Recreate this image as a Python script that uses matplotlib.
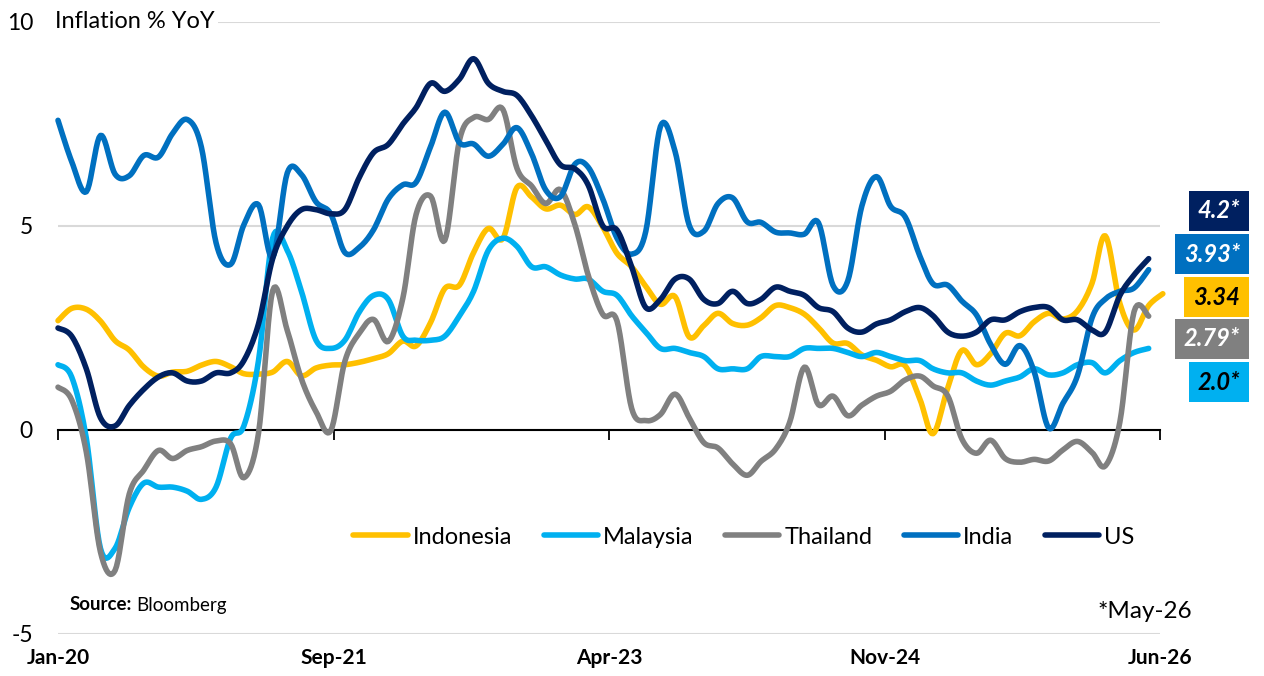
import numpy as np
import pandas as pd
import matplotlib
matplotlib.use('Agg')
import matplotlib.pyplot as plt
import matplotlib.dates as mdates

plt.rcParams['font.family'] = ['Lato', 'DejaVu Sans']

# month-end dates, Jan-20 .. Jun-26
months = pd.date_range('2020-01-31', periods=78, freq='ME')

# CPI % YoY
indonesia = [2.68, 2.98, 2.96, 2.67, 2.19, 1.96, 1.54, 1.32, 1.42, 1.44, 1.59, 1.68,
             1.55, 1.38, 1.37, 1.42, 1.68, 1.33, 1.52, 1.59, 1.60, 1.66, 1.75, 1.87,
             2.18, 2.06, 2.64, 3.47, 3.55, 4.35, 4.94, 4.69, 5.95, 5.71, 5.42, 5.51,
             5.28, 5.47, 4.97, 4.33, 4.00, 3.52, 3.08, 3.27, 2.28, 2.56, 2.86, 2.61,
             2.57, 2.75, 3.05, 3.00, 2.84, 2.51, 2.13, 2.12, 1.84, 1.71, 1.55, 1.57,
             0.76, -0.09, 1.03, 1.95, 1.60, 1.87, 2.37, 2.31, 2.65, 2.86, 2.72, 2.92,
             3.60, 4.76, 3.10, 2.45, 3.05, 3.34]
malaysia = [1.6, 1.3, -0.2, -2.9, -2.9, -1.9, -1.3, -1.4, -1.4, -1.5, -1.7, -1.4,
            -0.2, 0.1, 1.7, 4.7, 4.4, 3.4, 2.2, 2.0, 2.2, 2.9, 3.3, 3.2,
            2.3, 2.2, 2.2, 2.3, 2.8, 3.4, 4.4, 4.7, 4.5, 4.0, 4.0, 3.8,
            3.7, 3.7, 3.4, 3.3, 2.8, 2.4, 2.0, 2.0, 1.9, 1.8, 1.5, 1.5,
            1.5, 1.8, 1.8, 1.8, 2.0, 2.0, 2.0, 1.9, 1.8, 1.9, 1.8, 1.7,
            1.7, 1.5, 1.4, 1.4, 1.2, 1.1, 1.2, 1.3, 1.5, 1.35, 1.4, 1.6,
            1.65, 1.4, 1.7, 1.9, 2.0]
thailand = [1.05, 0.74, -0.54, -2.99, -3.44, -1.57, -0.98, -0.50, -0.70, -0.50, -0.41, -0.27,
            -0.34, -1.17, -0.08, 3.41, 2.44, 1.25, 0.45, -0.02, 1.68, 2.38, 2.71, 2.17,
            3.23, 5.28, 5.73, 4.65, 7.10, 7.66, 7.61, 7.86, 6.41, 5.98, 5.55, 5.89,
            5.02, 3.79, 2.83, 2.67, 0.53, 0.23, 0.38, 0.88, 0.30, -0.31, -0.44, -0.83,
            -1.11, -0.77, -0.47, 0.19, 1.54, 0.62, 0.83, 0.35, 0.61, 0.83, 0.95, 1.23,
            1.32, 1.08, 0.84, -0.22, -0.57, -0.25, -0.70, -0.79, -0.72, -0.76, -0.49, -0.28,
            -0.55, -0.88, 0.20, 2.90, 2.79]
india = [7.59, 6.58, 5.84, 7.22, 6.27, 6.23, 6.73, 6.69, 7.27, 7.61, 6.93, 4.59,
         4.06, 5.03, 5.52, 4.23, 6.30, 6.26, 5.59, 5.30, 4.35, 4.48, 4.91, 5.66,
         6.01, 6.07, 6.95, 7.79, 7.04, 7.01, 6.71, 7.00, 7.41, 6.77, 5.88, 5.72,
         6.52, 6.44, 5.66, 4.70, 4.31, 4.87, 7.44, 6.83, 5.02, 4.87, 5.55, 5.69,
         5.10, 5.09, 4.85, 4.83, 4.80, 5.08, 3.54, 3.65, 5.49, 6.21, 5.48, 5.22,
         4.26, 3.58, 3.55, 3.16, 2.82, 2.10, 1.61, 2.07, 1.44, 0.05, 0.65, 1.33,
         2.75, 3.21, 3.40, 3.48, 3.93]
us = [2.5, 2.3, 1.5, 0.3, 0.1, 0.6, 1.0, 1.3, 1.4, 1.2, 1.2, 1.4,
      1.4, 1.7, 2.6, 4.2, 5.0, 5.4, 5.4, 5.3, 5.4, 6.2, 6.8, 7.0,
      7.5, 7.9, 8.5, 8.3, 8.6, 9.1, 8.5, 8.3, 8.2, 7.7, 7.1, 6.5,
      6.4, 6.0, 5.0, 4.9, 4.0, 3.0, 3.2, 3.7, 3.7, 3.2, 3.1, 3.4,
      3.1, 3.2, 3.5, 3.4, 3.3, 3.0, 2.9, 2.5, 2.4, 2.6, 2.7, 2.9,
      3.0, 2.8, 2.4, 2.3, 2.4, 2.7, 2.7, 2.9, 3.0, 3.0, 2.7, 2.7,
      2.45, 2.4, 3.3, 3.8, 4.2]

names = ['Indonesia', 'Malaysia', 'Thailand', 'India', 'US']
series = [indonesia, malaysia, thailand, india, us]
colors = ['#FFC000', '#00B0F0', '#808080', '#0070C0', '#002060']

# latest value boxes on the right
box_texts = ['4.2*', '3.93*', '3.34', '2.79*', '2.0*']
box_colors = ['#002060', '#0070C0', '#FFC000', '#808080', '#00B0F0']
box_font = ['white', 'white', 'black', 'white', 'black']

tick_labels = ['Jan-20', 'Sep-21', 'Apr-23', 'Nov-24', 'Jun-26']


def smooth(x, y, n=10):
    # excel-like smoothed line (bezier through every point)
    x = np.asarray(x, float)
    y = np.asarray(y, float)
    px = np.concatenate([[x[0]], x, [x[-1]]])
    py = np.concatenate([[y[0]], y, [y[-1]]])
    t = np.linspace(0, 1, n + 1)[1:]
    xs, ys = [x[0]], [y[0]]
    for i in range(1, len(px) - 2):
        x1, y1, x2, y2 = px[i], py[i], px[i + 1], py[i + 1]
        c1x = x1 + (px[i + 1] - px[i - 1]) / 6
        c1y = y1 + (py[i + 1] - py[i - 1]) / 6
        c2x = x2 - (px[i + 2] - px[i]) / 6
        c2y = y2 - (py[i + 2] - py[i]) / 6
        bx = (1 - t) ** 3 * x1 + 3 * (1 - t) ** 2 * t * c1x + 3 * (1 - t) * t ** 2 * c2x + t ** 3 * x2
        by = (1 - t) ** 3 * y1 + 3 * (1 - t) ** 2 * t * c1y + 3 * (1 - t) * t ** 2 * c2y + t ** 3 * y2
        xs.extend(bx)
        ys.extend(by)
    return np.array(xs), np.array(ys)


W, H = 1264, 676
fig = plt.figure(figsize=(W / 100, H / 100), dpi=100)
ax = fig.add_axes([58 / W, 1 - 634 / H, (1160 - 58) / W, (634 - 22) / H])

xnum = mdates.date2num(months)
x0 = xnum[0]
ticks = [x0 + 584 * k for k in range(5)]

for name, vals, col in zip(names, series, colors):
    sx, sy = smooth(xnum[:len(vals)], vals)
    ax.plot(sx, sy, color=col, lw=4, solid_capstyle='round', label=name, clip_on=False, zorder=3)

ax.set_xlim(ticks[0], ticks[-1])
ax.set_ylim(-5, 10)
ax.set_yticks([-5, 0, 5, 10])
ax.set_yticklabels(['-5', '0', '5', '10'])
ax.yaxis.grid(True, color='#D9D9D9', lw=1.5)
ax.set_axisbelow(True)
for s in ['top', 'right', 'left']:
    ax.spines[s].set_visible(False)
ax.spines['bottom'].set_position(('data', 0))
ax.spines['bottom'].set_linewidth(1.5)
ax.spines['bottom'].set_zorder(2)
ax.set_xticks(ticks)
ax.tick_params(axis='x', direction='out', length=7, width=1.3, labelbottom=False)
ax.tick_params(axis='y', length=0, pad=18, labelsize=16.5)

sec = ax.secondary_xaxis('bottom')
sec.set_xticks(ticks)
sec.set_xticklabels(tick_labels, fontsize=15, fontweight='bold')
sec.tick_params(length=0, pad=10)
sec.spines['bottom'].set_visible(False)

ax.text(-0.003, 10, 'Inflation % YoY', transform=ax.get_yaxis_transform(),
        ha='left', va='center', fontsize=17,
        bbox=dict(boxstyle='square,pad=0.15', fc='white', ec='none'), zorder=4)

fig.legend(loc='center', bbox_to_anchor=(744 / W, 1 - 537 / H), ncol=5, frameon=False,
           fontsize=17, handlelength=2.3, handletextpad=0.2, columnspacing=1.35)

ys = [211, 254, 297, 339, 382]
for txt, bc, fc, yy in zip(box_texts, box_colors, box_font, ys):
    fig.text(1240 / W, 1 - yy / H, txt, ha='right', va='center', fontsize=17,
             fontweight='bold', style='italic', color=fc,
             bbox=dict(boxstyle='square,pad=0.38', fc=bc, ec='none'))

src = fig.text(70 / W, 1 - 605 / H, 'Source:', fontsize=13.5, fontweight='bold', va='center')
fig.canvas.draw()
bb = src.get_window_extent()
fig.text((bb.x1 + 4) / W, 1 - 605 / H, 'Bloomberg', fontsize=13.5, va='center')
fig.text(1192 / W, 1 - 612 / H, '*May-26', fontsize=17.5, ha='right', va='center')

fig.savefig('out.png', dpi=100)
